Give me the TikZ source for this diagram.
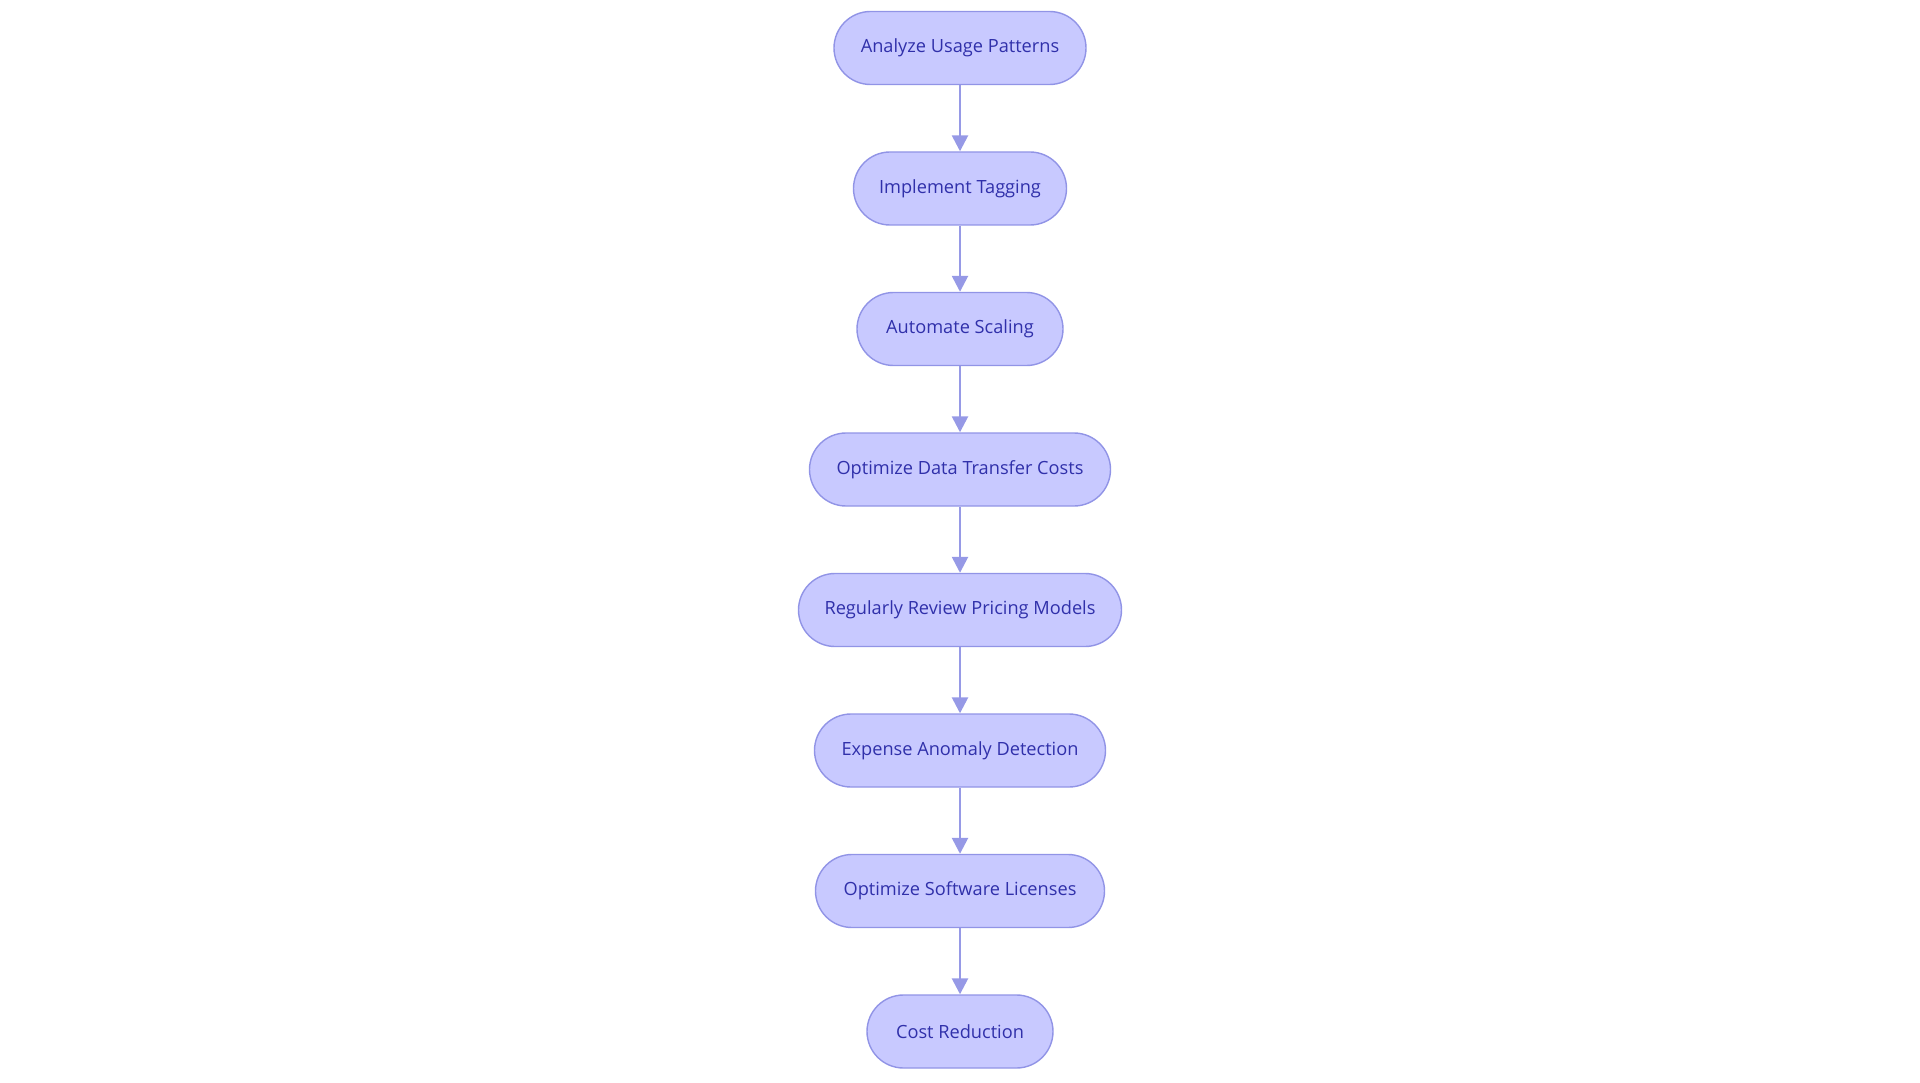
\documentclass[tikz,border=0pt]{standalone}
\usepackage{fontspec}
\setmainfont{Open Sans}
\usetikzlibrary{arrows.meta}
\definecolor{nodefill}{RGB}{200,201,255}
\definecolor{nodedraw}{RGB}{145,148,230}
\definecolor{nodetext}{RGB}{48,48,170}
\definecolor{edgecol}{RGB}{150,153,230}
\begin{document}
\begin{tikzpicture}[x=1pt,y=-1pt,
  pill/.style={draw=nodedraw, line width=1.4pt, fill=nodefill, text=nodetext,
    rounded corners=36.5pt, minimum height=73pt, inner sep=0pt,
    font=\fontsize{18.2}{21}\selectfont},
  flow/.style={draw=edgecol, line width=2.6pt,
    -{Triangle[length=16pt,width=16pt]}, shorten >=0pt}]
\useasboundingbox (0,0) rectangle (1920,1083);
\node[pill, minimum width=252pt] (n1) at (960,48) {Analyze Usage Patterns};
\node[pill, minimum width=213pt] (n2) at (960,188.5) {Implement Tagging};
\node[pill, minimum width=206pt] (n3) at (960,329) {Automate Scaling};
\node[pill, minimum width=301pt] (n4) at (960,469.5) {Optimize Data Transfer Costs};
\node[pill, minimum width=323pt] (n5) at (960,610) {Regularly Review Pricing Models};
\node[pill, minimum width=291pt] (n6) at (960,750.5) {Expense Anomaly Detection};
\node[pill, minimum width=289pt] (n7) at (960,891) {Optimize Software Licenses};
\node[pill, minimum width=186pt] (n8) at (960,1031.5) {Cost Reduction};
\draw[flow] (n1) -- (n2);
\draw[flow] (n2) -- (n3);
\draw[flow] (n3) -- (n4);
\draw[flow] (n4) -- (n5);
\draw[flow] (n5) -- (n6);
\draw[flow] (n6) -- (n7);
\draw[flow] (n7) -- (n8);
\end{tikzpicture}
\end{document}
